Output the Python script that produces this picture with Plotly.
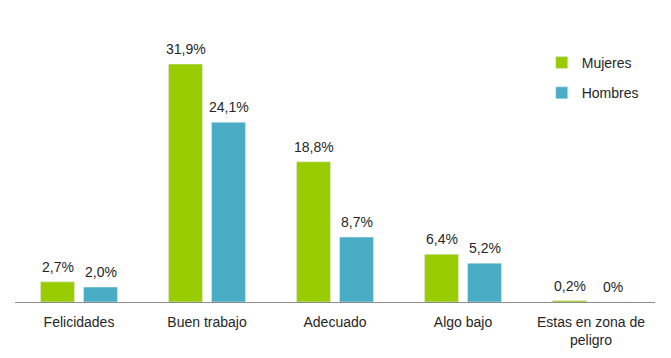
import plotly.graph_objects as go

categories = ["Felicidades", "Buen trabajo", "Adecuado", "Algo bajo", "Estas en zona de<br>peligro"]
mujeres = [2.7, 31.9, 18.8, 6.4, 0.2]
hombres = [2.0, 24.1, 8.7, 5.2, 0.0]

def fmt(v):
    if v == 0:
        return "0%"
    return f"{v:.1f}".replace(".", ",") + "%"

FONT = "Liberation Sans, Arial"
TXT = "#262626"

fig = go.Figure()
fig.add_trace(go.Bar(x=categories, y=mujeres, name="Mujeres", marker_color="#99CC00",
                     legendgroup="m"))
fig.add_trace(go.Bar(x=categories, y=hombres, name="Hombres", marker_color="#4BACC6",
                     legendgroup="h"))

# data labels above each bar
for vals, xs in ((mujeres, -21.5), (hombres, 21.5)):
    for c, v in zip(categories, vals):
        fig.add_annotation(x=c, y=v, text=fmt(v), showarrow=False, xshift=xs, yshift=5,
                           yanchor="bottom", font=dict(family=FONT, size=14, color=TXT))

fig.update_layout(
    width=663, height=350,
    margin=dict(l=7, r=16, t=33, b=56, autoexpand=False),
    paper_bgcolor="white", plot_bgcolor="white",
    barmode="group", bargap=0.328, bargroupgap=0.21,
    font=dict(family=FONT, size=14, color=TXT),
    showlegend=True,
    legend=dict(x=0.823, y=0.977, xanchor="left", yanchor="top", traceorder="grouped",
                tracegroupgap=9, font=dict(size=14, color=TXT), itemwidth=30),
    xaxis=dict(showline=True, linecolor="#8C8C8C", linewidth=1, ticks="outside", ticklen=7,
               tickcolor="rgba(0,0,0,0)", showgrid=False,
               tickfont=dict(size=14, color=TXT)),
    yaxis=dict(range=[0, 35], visible=False, showgrid=False),
)

fig.write_html("out.html")
